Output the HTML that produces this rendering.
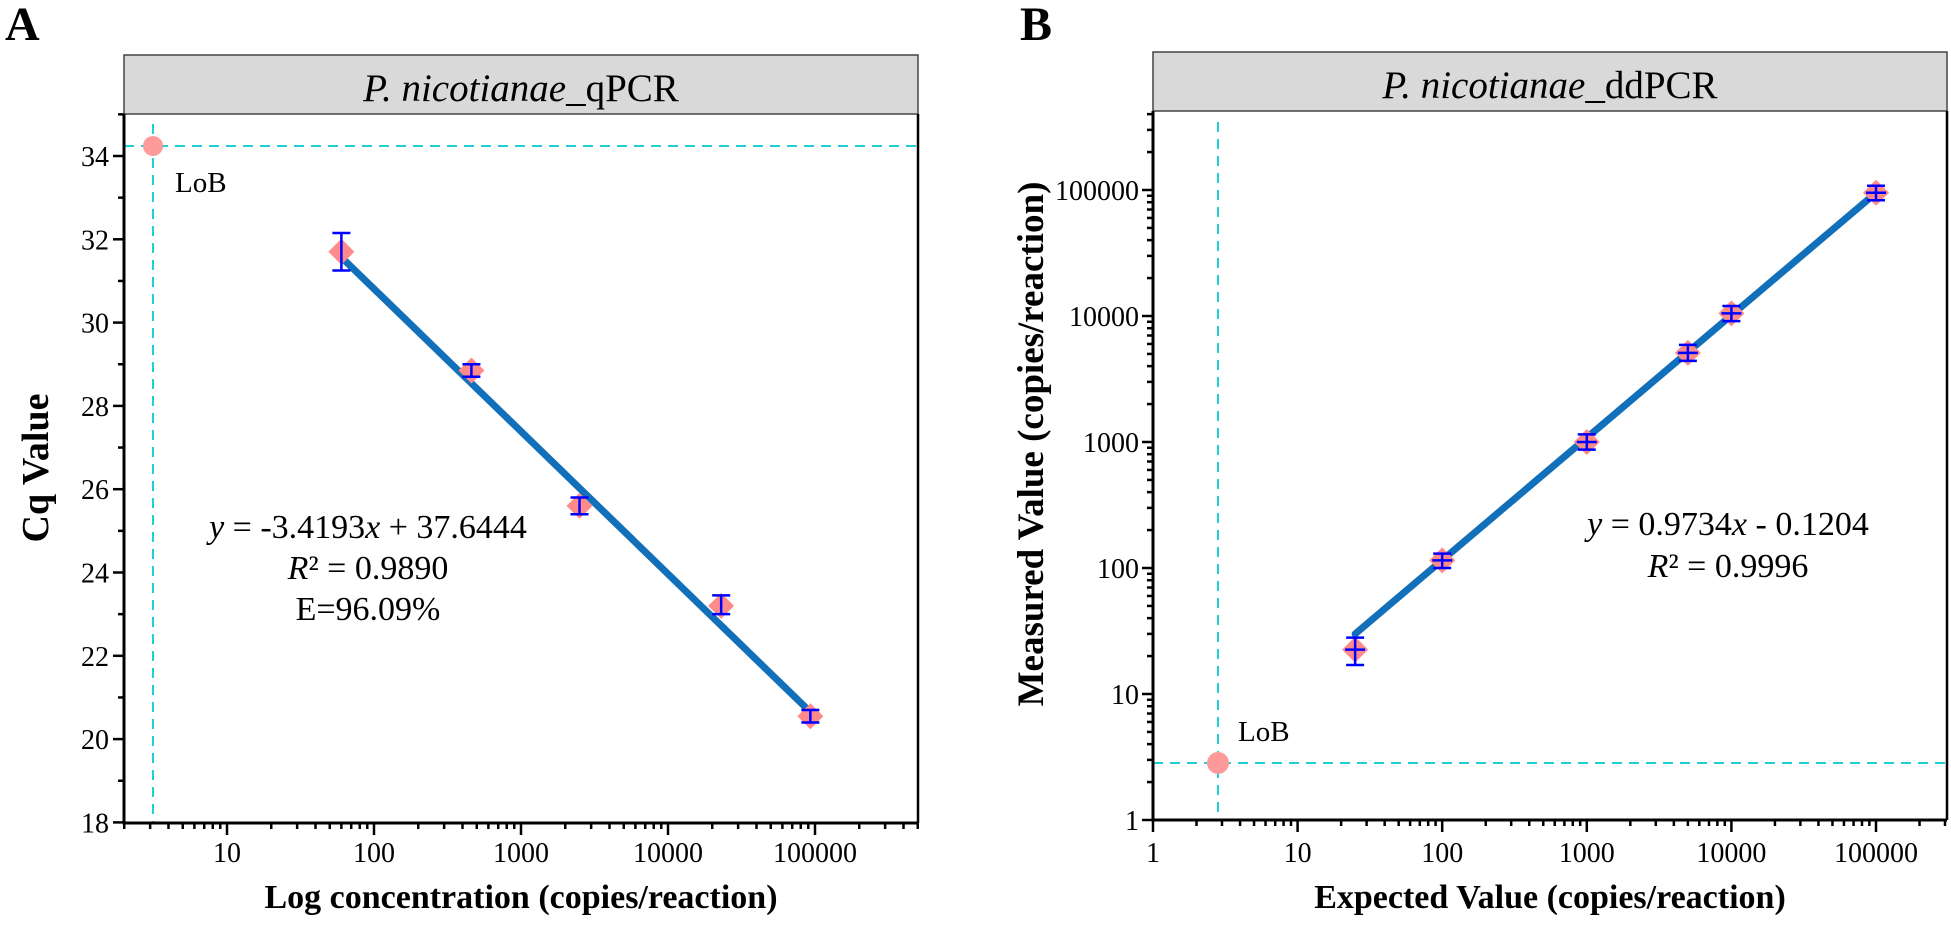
<!DOCTYPE html>
<html><head><meta charset="utf-8"><style>
html,body{margin:0;padding:0;background:#fff;}
svg{display:block;font-family:"Liberation Serif",serif;}
</style></head><body>
<svg id="s" width="1951" height="927" viewBox="0 0 1951 927" xmlns="http://www.w3.org/2000/svg"></svg>
<script>
const s=document.getElementById('s');let h='';
function L(x1,y1,x2,y2,c,w,extra){h+=`<line x1="${x1}" y1="${y1}" x2="${x2}" y2="${y2}" stroke="${c}" stroke-width="${w}" ${extra||''}/>`;}
function T(x,y,t,sz,anchor,extra){h+=`<text x="${x}" y="${y}" font-size="${sz}" text-anchor="${anchor||'middle'}" ${extra||''}>${t}</text>`;}
function dia(x,y){h+=`<polygon points="${x},${y-13} ${x+13},${y} ${x},${y+13} ${x-13},${y}" fill="#ff8a8a"/>`;}
function eb(x,y1,y2,yc){L(x,y1,x,y2,'#0000ff',2.5);L(x-9,y1,x+9,y1,'#0000ff',2.5);L(x-9,y2,x+9,y2,'#0000ff',2.5);}
const cyan='#1ecfd6';
T(5,40,'A',48,'start','font-weight="bold"');
T(1020,40,'B',48,'start','font-weight="bold"');
// ---------- Panel A ----------
const aL=124,aR=918,aT=114,aB=823;
const ax=v=>227+147*(Math.log10(v)-1);
const ay=v=>156-(v-34)*41.65;
h+=`<rect x="${aL}" y="55" width="${aR-aL}" height="59" fill="#d9d9d9" stroke="#444" stroke-width="1.5"/>`;
T(521,101,'<tspan font-style="italic">P. nicotianae</tspan>_qPCR',39);
L(153,124,153,aB,cyan,2,'stroke-dasharray="10,7"');
L(aL,146,aR,146,cyan,2,'stroke-dasharray="10,7"');
h+=`<circle cx="153" cy="146" r="10" fill="#ff9a9a"/>`;
T(175,192,'LoB',29,'start');
L(ax(60),ay(31.57),ax(93000),ay(20.65),'#1170b9',7,'stroke-linecap="round"');
const dA=[[60,31.7,31.25,32.15],[460,28.85,28.7,29.0],[2500,25.6,25.4,25.8],[23000,23.2,23.0,23.45],[93000,20.55,20.4,20.7]];
dA.forEach(d=>{dia(ax(d[0]),ay(d[1]));eb(ax(d[0]),ay(d[3]),ay(d[2]));});
T(368,538,'<tspan font-style="italic">y</tspan> = -3.4193<tspan font-style="italic">x</tspan> + 37.6444',34);
T(368,579,'<tspan font-style="italic">R</tspan>² = 0.9890',34);
T(368,620,'E=96.09%',34);
L(aL,aT,aL,aB+1.5,'#000',3);L(aL-1.5,aB,aR,aB,'#000',3);L(aR,aT,aR,aB,'#000',2.5);
for(let v=18;v<=35;v++){const y=ay(v);L(aL-(v%2==0?11:6),y,aL,y,'#000',2.5);if(v%2==0)T(aL-15,y+10,v,28,'end');}
for(let e=0;e<6;e++)for(let m=1;m<10;m++){const v=m*Math.pow(10,e);if(v<2||v>500000)continue;const x=ax(v);L(x,aB,x,aB+(m==1?12:6),'#000',2.5);if(m==1&&e>0)T(x,862,v,28);}
T(521,908,'Log concentration (copies/reaction)',34,'middle','font-weight="bold"');
T(0,0,'Cq Value',38,'middle',`font-weight="bold" transform="translate(48,468) rotate(-90)"`);
// ---------- Panel B ----------
const bL=1153,bR=1947,bT=111,bB=820;
const bx=v=>1153+144.6*Math.log10(v);
const by=v=>820-126*Math.log10(v);
h+=`<rect x="${bL}" y="52" width="${bR-bL}" height="59" fill="#d9d9d9" stroke="#444" stroke-width="1.5"/>`;
T(1550,98,'<tspan font-style="italic">P. nicotianae</tspan>_ddPCR',39);
L(1218,122,1218,bB,cyan,2,'stroke-dasharray="10,7"');
L(bL,763,bR,763,cyan,2,'stroke-dasharray="10,7"');
h+=`<circle cx="1218" cy="763" r="11" fill="#ff9a9a"/>`;
T(1238,741,'LoB',29,'start');
L(bx(25),by(30),bx(100000),by(95000),'#1170b9',7,'stroke-linecap="round"');
const dB=[[25,22.5,17,28],[100,115,100,130],[1000,1000,870,1150],[5000,5100,4400,5900],[10000,10500,9100,12000],[100000,95000,83000,108000]];
dB.forEach(d=>{dia(bx(d[0]),by(d[1]));eb(bx(d[0]),by(d[3]),by(d[2]));L(bx(d[0])-10,by(d[1]),bx(d[0])+10,by(d[1]),'#0000ff',2.5);});
T(1728,535,'<tspan font-style="italic">y</tspan> = 0.9734<tspan font-style="italic">x</tspan> - 0.1204',34);
T(1728,577,'<tspan font-style="italic">R</tspan>² = 0.9996',34);
L(bL,bT,bL,bB+1.5,'#000',3);L(bL-1.5,bB,bR,bB,'#000',3);L(bR,bT,bR,bB,'#000',2.5);
for(let e=0;e<6;e++)for(let m=1;m<10;m++){const v=m*Math.pow(10,e);
 if(v<=430000){const y=by(v);if(y>=bT-1){L(bL-(m==1?11:6),y,bL,y,'#000',2.5);if(m==1)T(bL-14,y+10,v,28,'end');}}
 if(v<=300000){const x=bx(v);if(x<=bR+1){L(x,bB,x,bB+(m==1?12:6),'#000',2.5);if(m==1)T(x,862,v,28);}}}
T(1550,908,'Expected Value (copies/reaction)',34,'middle','font-weight="bold"');
T(0,0,'Measured Value (copies/reaction)',37,'middle',`font-weight="bold" transform="translate(1043,444) rotate(-90)"`);
s.innerHTML=h;
</script>
</body></html>
